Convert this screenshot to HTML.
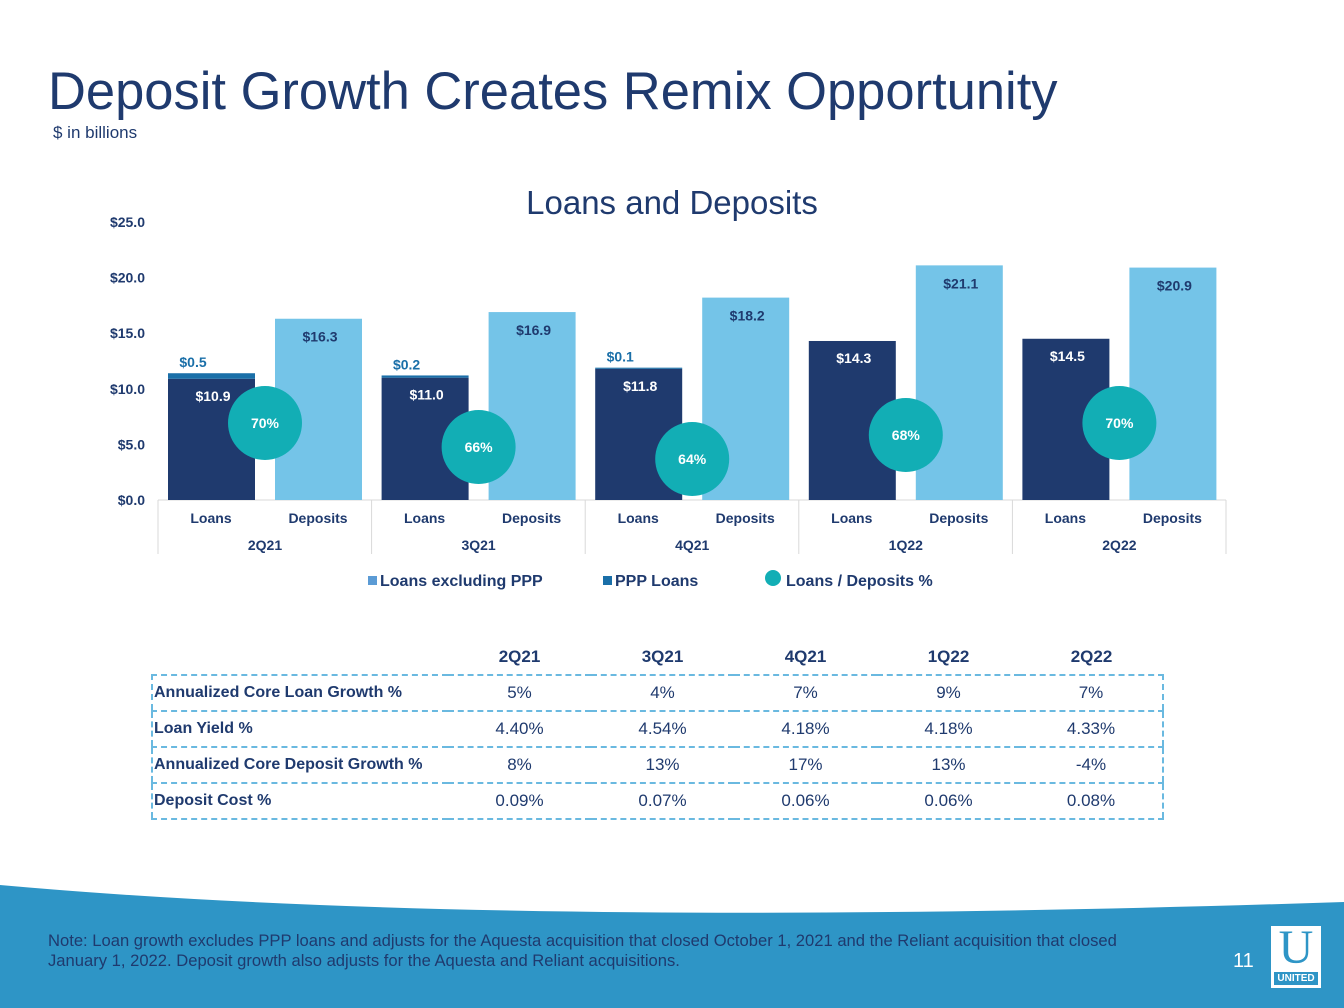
<!DOCTYPE html>
<html><head><meta charset="utf-8"><style>
body{margin:0;width:1344px;height:1008px;background:#fff;font-family:"Liberation Sans",sans-serif;position:relative;overflow:hidden}
.t{position:absolute}
table{border-collapse:collapse}
</style></head><body>
<div class="t" style="left:48px;top:61px;font-size:52.5px;color:#1f3a6e">Deposit Growth Creates Remix Opportunity</div>
<div class="t" style="left:53px;top:123px;font-size:17px;color:#1f3a6e">$ in billions</div>
<svg id="chart" class="t" style="left:0;top:0" width="1344" height="620"></svg>
<div class="t" style="left:151px;top:640px">
<table style="font-family:'Liberation Sans',sans-serif;font-size:17px;color:#1f3a6e">
<tr style="height:35px;font-weight:bold"><td style="width:294px"></td><td style="width:141px;text-align:center">2Q21</td><td style="width:141px;text-align:center">3Q21</td><td style="width:141px;text-align:center">4Q21</td><td style="width:141px;text-align:center">1Q22</td><td style="width:141px;text-align:center">2Q22</td></tr>
<tbody id="rows" style="border:2px dashed #6ab9e0"></tbody>
</table></div>
<svg class="t" style="left:0;top:880px" width="1344" height="128"><path d="M0 5 Q500 50 1344 22 L1344 128 L0 128Z" fill="#2e95c6"/></svg>
<div class="t" style="left:48px;top:931px;font-size:16.6px;color:#1f3a6e;white-space:nowrap;line-height:20px">Note: Loan growth excludes PPP loans and adjusts for the Aquesta acquisition that closed October 1, 2021 and the Reliant acquisition that closed<br>January 1, 2022. Deposit growth also adjusts for the Aquesta and Reliant acquisitions.</div>
<div class="t" style="left:1233px;top:950px;font-size:20px;color:#fff">11</div>
<div class="t" style="left:1271px;top:926px;width:50px;height:62px;background:#fff">
<div style="text-align:center;font-family:'Liberation Serif',serif;font-size:48px;color:#2e95c6;line-height:44px">U</div>
<div style="margin:2px 3px;background:#2e95c6;color:#fff;font-size:10px;font-weight:bold;text-align:center;line-height:13px">UNITED</div></div>
<script>
const quarters=['2Q21','3Q21','4Q21','1Q22','2Q22'];
const loansExPPP=[10.9,11.0,11.8,14.3,14.5];
const pppLoans=[0.5,0.2,0.1,0,0];
const deposits=[16.3,16.9,18.2,21.1,20.9];
const ratio=[70,66,64,68,70];
const yTicks=[0,5,10,15,20,25];
const rowLabels=['Annualized Core Loan Growth %','Loan Yield %','Annualized Core Deposit Growth %','Deposit Cost %'];
const rowValues=[['5%','4%','7%','9%','7%'],['4.40%','4.54%','4.18%','4.18%','4.33%'],['8%','13%','17%','13%','-4%'],['0.09%','0.07%','0.06%','0.06%','0.08%']];
const NS='http://www.w3.org/2000/svg',svg=document.getElementById('chart');
const y=v=>500-v*11.12, gx=i=>158+i*213.6, ry=p=>423+(70-p)*6;
function el(t,a,txt){const e=document.createElementNS(NS,t);for(const k in a)e.setAttribute(k,a[k]);if(txt!==undefined)e.textContent=txt;svg.appendChild(e);return e;}
let e=el('text',{x:672,y:214,'text-anchor':'middle','font-size':33,fill:'#1f3a6e'},'Loans and Deposits');


yTicks.forEach(v=>{const t=el('text',{x:145,y:y(v)+5,'text-anchor':'end','font-size':14,'font-weight':'bold',fill:'#1f3a6e'},'$'+v.toFixed(1));

});
el('line',{x1:158,x2:1226,y1:500,y2:500,stroke:'#d9d9d9'});
for(let i=0;i<=5;i++)el('line',{x1:gx(i),x2:gx(i),y1:500,y2:554,stroke:'#d9d9d9'});
quarters.forEach((q,i)=>{
 const lx=gx(i)+10,dx=gx(i)+117,w=87;
 let b=el('rect',{x:lx,y:y(loansExPPP[i]),width:w,height:loansExPPP[i]*11.12,fill:'#1f3a6e'});
 
 
 if(pppLoans[i]>0){let p=el('rect',{x:lx,y:y(loansExPPP[i]+pppLoans[i]),width:w,height:pppLoans[i]*11.12,fill:'#1a6fa8'});
 
 
 el('text',{x:lx+25,y:y(loansExPPP[i]+pppLoans[i])-6,'text-anchor':'middle','font-size':14,'font-weight':'bold',fill:'#1a6fa8'},'$'+pppLoans[i].toFixed(1));}
 el('text',{x:lx+45,y:y(loansExPPP[i])+22,'text-anchor':'middle','font-size':14,'font-weight':'bold',fill:'#fff'},'$'+loansExPPP[i].toFixed(1));
 let d=el('rect',{x:dx,y:y(deposits[i]),width:w,height:deposits[i]*11.12,fill:'#74c4e8'});
 
 
 el('text',{x:dx+45,y:y(deposits[i])+23,'text-anchor':'middle','font-size':14,'font-weight':'bold',fill:'#1f3a6e'},'$'+deposits[i].toFixed(1));
 let c=el('circle',{cx:gx(i)+107,cy:ry(ratio[i]),r:37,fill:'#12aeb5'});
 
 
 el('text',{x:gx(i)+107,y:ry(ratio[i])+5,'text-anchor':'middle','font-size':14,'font-weight':'bold',fill:'#fff'},ratio[i]+'%');
 el('text',{x:gx(i)+53,y:523,'text-anchor':'middle','font-size':14,'font-weight':'bold',fill:'#1f3a6e'},'Loans');
 el('text',{x:gx(i)+160,y:523,'text-anchor':'middle','font-size':14,'font-weight':'bold',fill:'#1f3a6e'},'Deposits');
 el('text',{x:gx(i)+107,y:550,'text-anchor':'middle','font-size':14,'font-weight':'bold',fill:'#1f3a6e'},q);
});
[[368,'#5b9bd5','Loans excluding PPP'],[603,'#1a6fa8','PPP Loans']].forEach(([x,c,t])=>{el('rect',{x:x,y:576,width:9,height:9,fill:c});
let l=el('text',{x:x+12,y:586,'font-size':16,'font-weight':'bold',fill:'#1f3a6e'},t);

});
el('circle',{cx:773,cy:578,r:8,fill:'#12aeb5'});
let l3=el('text',{x:786,y:586,'font-size':16,'font-weight':'bold',fill:'#1f3a6e'},'Loans / Deposits %');


const tb=document.getElementById('rows');
rowLabels.forEach((r,i)=>{const tr=document.createElement('tr');tr.style.height='36px';tr.style.borderBottom='2px dashed #6ab9e0';


tr.innerHTML='<td style="font-weight:bold;font-size:16px">'+r+'</td>'+rowValues[i].map(v=>'<td style="text-align:center">'+v+'</td>').join('');tb.appendChild(tr);});
</script>
</body></html>
